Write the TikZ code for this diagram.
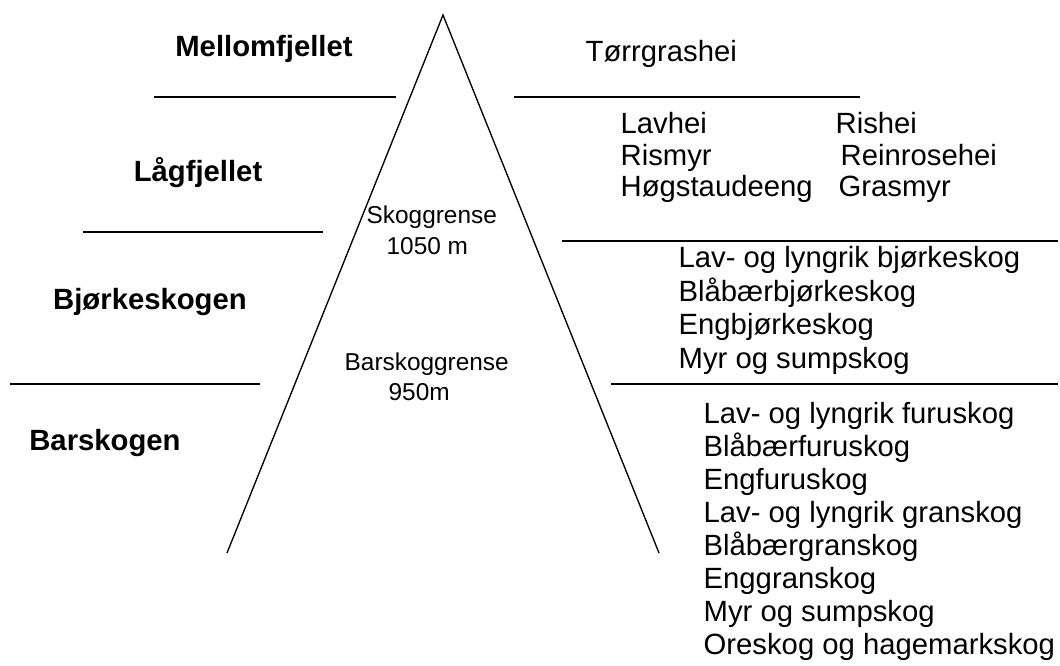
\documentclass[tikz,border=0pt]{standalone}
\usepackage{fontspec}
\setmainfont{Liberation Sans}
\usepackage{tikz}

\tikzset{
  zone/.style={font=\fontsize{12}{14}\selectfont\bfseries, anchor=base, inner sep=0pt},
  veg/.style={font=\fontsize{12}{14}\selectfont, anchor=base west, inner sep=0pt},
  limit/.style={font=\fontsize{10}{12}\selectfont, anchor=base west, inner sep=0pt}
}

\begin{document}
\begin{tikzpicture}[x=0.41pt, y=-0.41pt, line width=0.55pt]
	\useasboundingbox (0,0) rectangle (1060,666);
	% the mountain
	\draw (227,553) -- (443,15) -- (659,553);
	% zone borders
	\draw (154,97) -- (396,97);
	\draw (514,97) -- (860,97);
	\draw (83,232) -- (323,232);
	\draw (562,241) -- (1058,241);
	\draw (10,384) -- (260,384);
	\draw (611,384) -- (1058,384);
	% zones
	\node[zone] (mellom) at (264,57) {Mellomfjellet};
	\node[zone] (lag) at (198,182) {Lågfjellet};
	\node[zone] (bjork) at (150,310) {Bjørkeskogen};
	\node[zone] (bar) at (105,450) {Barskogen};
	% tree lines
	\node[limit] (skog) at (366,224) {Skoggrense};
	\node[limit] (skogm) at (386,255) {1050 m};
	\node[limit] (barg) at (344,370) {Barskoggrense};
	\node[limit] (bargm) at (388,400) {950m};
	% vegetation types
	\node[veg] (torr) at (585,62) {Tørrgrashei};
	\node[veg] (lavhei) at (620,134) {Lavhei};
	\node[veg] (rishei) at (835,134) {Rishei};
	\node[veg] (rismyr) at (620,166) {Rismyr};
	\node[veg] (rein) at (840,166) {Reinrosehei};
	\node[veg] (hogst) at (620,197) {Høgstaudeeng};
	\node[veg] (grasm) at (838,197) {Grasmyr};
	\node[veg] (b1) at (678,268) {Lav- og lyngrik bjørkeskog};
	\node[veg] (b2) at (678,302) {Blåbærbjørkeskog};
	\node[veg] (b3) at (678,335) {Engbjørkeskog};
	\node[veg] (b4) at (678,368) {Myr og sumpskog};
	\node[veg] (f1) at (703,423) {Lav- og lyngrik furuskog};
	\node[veg] (f2) at (703,456) {Blåbærfuruskog};
	\node[veg] (f3) at (703,489) {Engfuruskog};
	\node[veg] (f4) at (703,522) {Lav- og lyngrik granskog};
	\node[veg] (f5) at (703,555) {Blåbærgranskog};
	\node[veg] (f6) at (703,588) {Enggranskog};
	\node[veg] (f7) at (703,621) {Myr og sumpskog};
	\node[veg] (f8) at (703,654) {Oreskog og hagemarkskog};
\end{tikzpicture}
\end{document}
